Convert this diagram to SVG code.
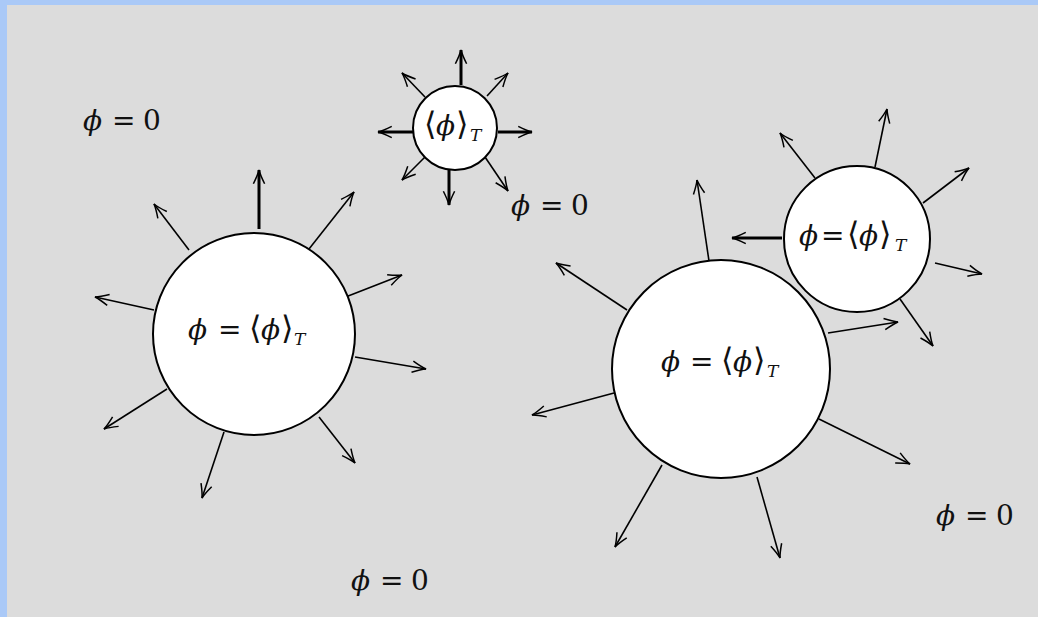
<svg xmlns="http://www.w3.org/2000/svg" width="1038" height="617" viewBox="0 0 1038 617">
<defs>
<marker id="ah" markerUnits="userSpaceOnUse" markerWidth="20" markerHeight="20" refX="0" refY="0" viewBox="-12 -8 14 16" orient="auto" overflow="visible">
<path d="M -11,-4.5 Q -4,-1 0,0 Q -4,1 -11,4.5" fill="none" stroke="#000" stroke-width="1.2"/>
</marker>
<style>
.bg{fill:#dcdcdc}
.circ{fill:#fff;stroke:#000;stroke-width:2}
.a{stroke:#000;stroke-width:1.6;fill:none;marker-end:url(#ah)}
.t{stroke:#000;stroke-width:3;fill:none;marker-end:url(#ah)}
.lbl{font-family:"DejaVu Serif","Liberation Serif",serif;font-size:28px;fill:#111}
.ph{font-style:italic}
.eq{font-family:"DejaVu Sans",sans-serif;font-size:28px}
.br{font-family:"DejaVu Sans","DejaVu Serif",sans-serif;font-size:32px;font-weight:300}
.sub{font-style:italic;font-size:17px}
</style>
</defs>
<rect x="0" y="0" width="1038" height="617" fill="#aac9f7"/>
<rect class="bg" x="7" y="5" width="1031" height="612"/>

<g id="connectors">
<!-- circle 1 -->
<line class="t" x1="259" y1="229" x2="259" y2="170"/>
<line class="a" x1="189" y1="250" x2="154" y2="204"/>
<line class="a" x1="309" y1="249" x2="354" y2="192"/>
<line class="a" x1="343" y1="298" x2="402" y2="275"/>
<line class="a" x1="355" y1="357" x2="426" y2="369"/>
<line class="a" x1="319" y1="417" x2="355" y2="463"/>
<line class="a" x1="224" y1="432" x2="202" y2="498"/>
<line class="a" x1="167" y1="389" x2="104" y2="429"/>
<line class="a" x1="154" y1="310" x2="95" y2="297"/>
<!-- circle 2 -->
<line class="t" x1="461" y1="85" x2="461" y2="50"/>
<line class="a" x1="487" y1="96" x2="508" y2="73"/>
<line class="t" x1="498" y1="132" x2="532" y2="132"/>
<line class="a" x1="485" y1="157" x2="508" y2="191"/>
<line class="t" x1="449" y1="169" x2="449" y2="205"/>
<line class="a" x1="425" y1="157" x2="402" y2="180"/>
<line class="t" x1="413" y1="132" x2="378" y2="132"/>
<line class="a" x1="425" y1="97" x2="402" y2="73"/>
<!-- circle 4 -->
<line class="a" x1="815" y1="178" x2="780" y2="133"/>
<line class="a" x1="875" y1="167" x2="887" y2="109"/>
<line class="a" x1="923" y1="203" x2="969" y2="168"/>
<line class="a" x1="935" y1="263" x2="982" y2="274"/>
<line class="a" x1="900" y1="299" x2="933" y2="346"/>
<line class="t" x1="782" y1="238" x2="732" y2="238"/>
<!-- circle 3 -->
<line class="a" x1="709" y1="261" x2="697" y2="180"/>
<line class="a" x1="627" y1="310" x2="556" y2="263"/>
<line class="a" x1="614" y1="393" x2="532" y2="415"/>
<line class="a" x1="828" y1="333" x2="898" y2="322"/>
<line class="a" x1="819" y1="419" x2="910" y2="464"/>
<line class="a" x1="757" y1="477" x2="780" y2="558"/>
<line class="a" x1="662" y1="465" x2="615" y2="547"/>
</g>

<g id="node-left">
<circle class="circ" cx="254" cy="334" r="101"/>
<text class="lbl" y="339"><tspan class="ph" x="188">ϕ</tspan><tspan class="eq" x="218">=</tspan><tspan class="br" x="249">⟨</tspan><tspan class="ph" x="261">ϕ</tspan><tspan class="br" x="281">⟩</tspan><tspan class="sub" x="294" dy="6">T</tspan></text>
</g>
<g id="node-top">
<circle class="circ" cx="455" cy="128" r="42"/>
<text class="lbl" y="135"><tspan class="br" x="424">⟨</tspan><tspan class="ph" x="436">ϕ</tspan><tspan class="br" x="456">⟩</tspan><tspan class="sub" x="470" dy="6">T</tspan></text>
</g>
<g id="node-right-big">
<circle class="circ" cx="721" cy="369" r="109"/>
<text class="lbl" y="371"><tspan class="ph" x="661">ϕ</tspan><tspan class="eq" x="690">=</tspan><tspan class="br" x="721">⟨</tspan><tspan class="ph" x="733">ϕ</tspan><tspan class="br" x="753">⟩</tspan><tspan class="sub" x="767" dy="6">T</tspan></text>
</g>
<g id="node-right-small">
<circle class="circ" cx="857" cy="239" r="73"/>
<text class="lbl" y="245"><tspan class="ph" x="799">ϕ</tspan><tspan class="eq" x="821">=</tspan><tspan class="br" x="847">⟨</tspan><tspan class="ph" x="859">ϕ</tspan><tspan class="br" x="879">⟩</tspan><tspan class="sub" x="895" dy="6">T</tspan></text>
</g>

<g id="labels">
<text class="lbl" y="130"><tspan class="ph" x="83">ϕ</tspan><tspan class="eq" x="112">=</tspan><tspan x="143">0</tspan></text>
<text class="lbl" y="215"><tspan class="ph" x="511">ϕ</tspan><tspan class="eq" x="540">=</tspan><tspan x="571">0</tspan></text>
<text class="lbl" y="590"><tspan class="ph" x="351">ϕ</tspan><tspan class="eq" x="380">=</tspan><tspan x="411">0</tspan></text>
<text class="lbl" y="525"><tspan class="ph" x="936">ϕ</tspan><tspan class="eq" x="965">=</tspan><tspan x="996">0</tspan></text>
</g>
</svg>
